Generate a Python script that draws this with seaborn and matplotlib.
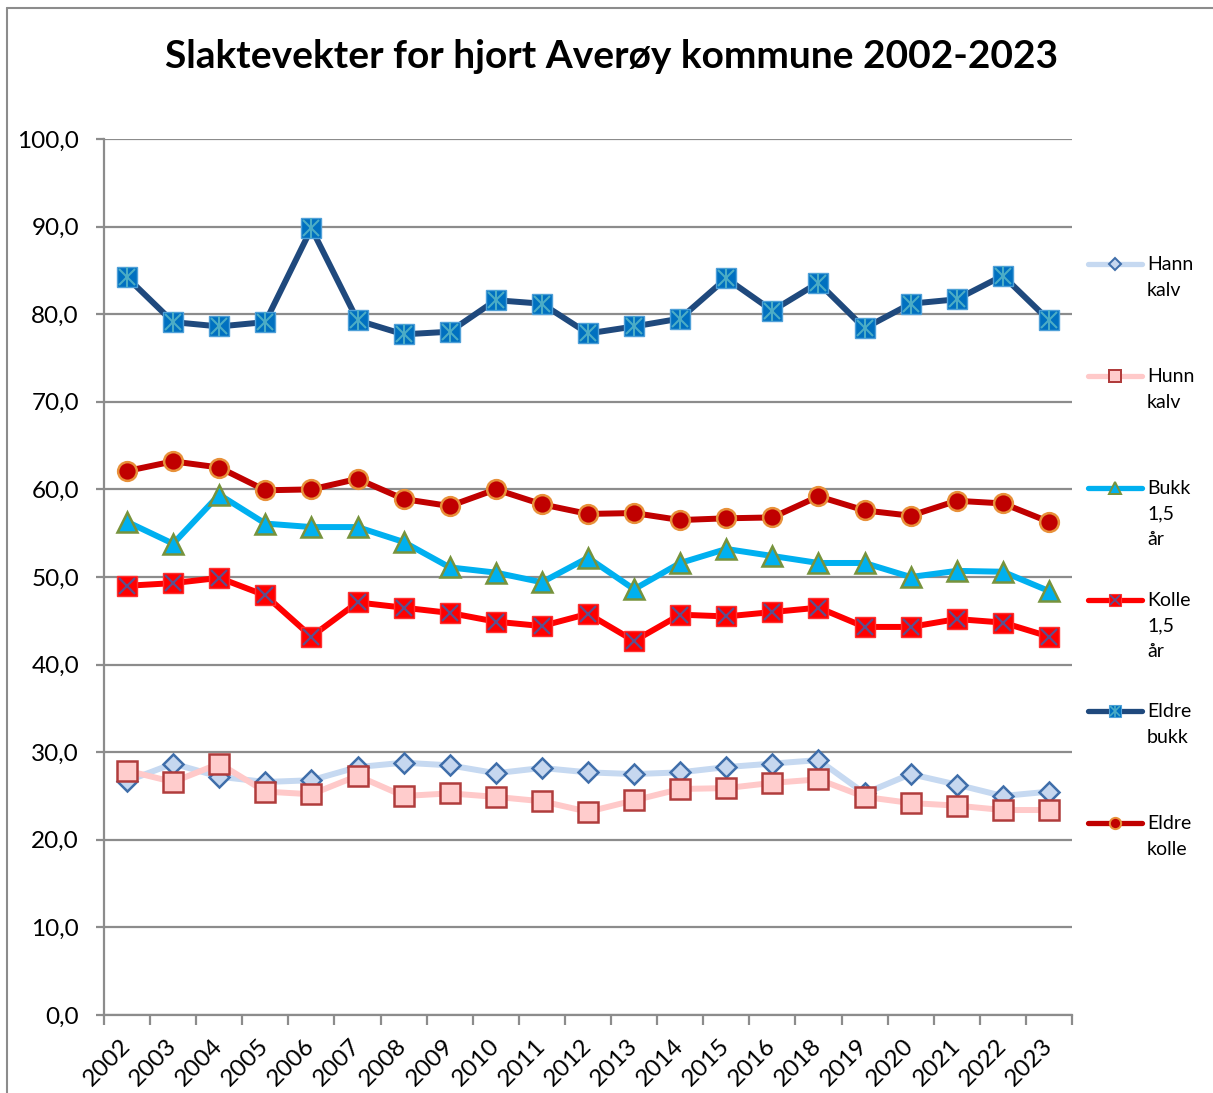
import numpy as np
import pandas as pd
import matplotlib
matplotlib.use("Agg")
import matplotlib.pyplot as plt
from matplotlib.lines import Line2D
import seaborn as sns

# ---------------- data ----------------
years = ["2002", "2003", "2004", "2005", "2006", "2007", "2008", "2009", "2010",
         "2011", "2012", "2013", "2014", "2015", "2016", "2018", "2019", "2020",
         "2021", "2022", "2023"]
hann_kalv = [26.7, 28.7, 27.2, 26.6, 26.8, 28.3, 28.8, 28.5, 27.6, 28.2, 27.7,
             27.5, 27.7, 28.3, 28.7, 29.1, 25.3, 27.5, 26.3, 25.0, 25.5]
hunn_kalv = [27.9, 26.6, 28.7, 25.5, 25.2, 27.3, 25.0, 25.3, 24.9, 24.4, 23.2,
             24.5, 25.8, 25.9, 26.5, 26.9, 24.9, 24.2, 23.9, 23.4, 23.4]
bukk_15 = [56.3, 53.8, 59.4, 56.1, 55.7, 55.7, 54.0, 51.1, 50.5, 49.4, 52.2,
           48.6, 51.6, 53.2, 52.4, 51.6, 51.6, 50.0, 50.7, 50.6, 48.4]
kolle_15 = [49.0, 49.3, 49.9, 47.9, 43.2, 47.1, 46.5, 45.9, 44.9, 44.4, 45.8,
            42.7, 45.7, 45.5, 46.0, 46.5, 44.3, 44.3, 45.2, 44.8, 43.2]
eldre_bukk = [84.2, 79.1, 78.6, 79.1, 89.8, 79.3, 77.7, 78.0, 81.6, 81.2, 77.8,
              78.6, 79.5, 84.1, 80.4, 83.6, 78.4, 81.2, 81.7, 84.4, 79.3]
eldre_kolle = [62.1, 63.2, 62.5, 59.9, 60.0, 61.2, 58.9, 58.1, 60.0, 58.3, 57.2,
               57.3, 56.5, 56.7, 56.8, 59.2, 57.6, 57.0, 58.7, 58.4, 56.3]
series_names = ["Hann\nkalv", "Hunn\nkalv", "Bukk\n1,5\når", "Kolle\n1,5\når",
                "Eldre\nbukk", "Eldre\nkolle"]
title = "Slaktevekter for hjort Averøy kommune 2002-2023"

# ---------------- styles ----------------
styles = [
    dict(color="#C6D9F1", marker="D", ms=10, mfc="#C6D7EF", mec="#3F6EAA", mew=1.8),
    dict(color="#FFC9C9", marker="s", ms=14, mfc="#FFCCCC", mec="#B03C3C", mew=1.8),
    dict(color="#00B0F0", marker="^", ms=15, mfc="#00B0F0", mec="#77933C", mew=1.8),
    dict(color="#FF0000", marker="s", ms=14, mfc="#FF0000", mec="#FF3030", mew=1.0),
    dict(color="#1F497D", marker="s", ms=14, mfc="#0070C0", mec="#4FA0D8", mew=1.0),
    dict(color="#C00000", marker="o", ms=13.5, mfc="#C00000", mec="#E8913A", mew=1.8),
]
overlays = {3: [dict(marker="x", ms=12, color="#5E4F8C", mew=1.6)],
            4: [dict(marker="x", ms=11, color="#4BACC6", mew=1.5),
                dict(marker="|", ms=14, color="#4BACC6", mew=1.5)]}

sns.set_theme(style="white")
plt.rcParams["font.family"] = ["Lato", "DejaVu Sans"]

W, H = 1213, 1093
fig = plt.figure(figsize=(W / 100, H / 100), dpi=100)
fig.patch.set_facecolor("white")

def fx(px):
    return px / W

def fy(py):
    return 1 - py / H

ax_l, ax_r, ax_t, ax_b = 104, 1072, 139, 1015
ax = fig.add_axes([fx(ax_l), fy(ax_b), fx(ax_r - ax_l), (ax_b - ax_t) / H])

xpos = np.arange(len(years))
all_series = [hann_kalv, hunn_kalv, bukk_15, kolle_15, eldre_bukk, eldre_kolle]
for i, (vals, st) in enumerate(zip(all_series, styles)):
    sns.lineplot(x=xpos, y=vals, ax=ax, color=st["color"], lw=4.3,
                 marker=st["marker"], markersize=st["ms"],
                 markerfacecolor=st["mfc"], markeredgecolor=st["mec"],
                 markeredgewidth=st["mew"], zorder=3 + i, legend=False)
    for ov in overlays.get(i, []):
        ax.plot(xpos, vals, ls="none", marker=ov["marker"], ms=ov["ms"],
                mec=ov["color"], mew=ov["mew"], zorder=3.5 + i)

grid_col = "#8C8C8C"
ax.set_xlim(-0.5, len(years) - 0.5)
ax.set_ylim(0, 100)
yt = np.arange(0, 101, 10)
ax.set_yticks(yt)
ax.set_yticklabels([f"{v:.1f}".replace(".", ",") for v in yt])
ax.set_xticks(xpos)
ax.set_xticklabels(years, rotation=45, ha="right", rotation_mode="anchor", va="center")
ax.set_xticks(np.arange(-0.5, len(years), 1), minor=True)
ax.set_xlabel("")
ax.set_ylabel("")
ax.yaxis.grid(True, color=grid_col, lw=1.6, zorder=0)
ax.xaxis.grid(False)
ax.set_axisbelow(True)
for s in ["top", "right"]:
    ax.spines[s].set_visible(False)
for s in ["left", "bottom"]:
    ax.spines[s].set_color(grid_col)
    ax.spines[s].set_linewidth(1.6)
ax.tick_params(axis="y", which="major", length=6, width=1.6, color=grid_col,
               direction="out", pad=12, labelsize=17.5, labelcolor="black", left=True)
ax.tick_params(axis="x", which="major", length=0, pad=20, labelsize=17.5,
               labelcolor="black", bottom=True)
ax.tick_params(axis="x", which="minor", length=7, width=1.6, color=grid_col,
               direction="out", bottom=True)

# title
fig.text(0.5041, fy(68), title, ha="center", va="baseline", fontsize=28,
         fontweight="bold", color="black")

# legend (drawn manually to mimic Excel layout)
leg_y = [264, 376, 488, 600, 711, 823]
for i, (name, st) in enumerate(zip(series_names, styles)):
    yc = fy(leg_y[i])
    fig.add_artist(Line2D([fx(1088), fx(1142)], [yc, yc], transform=fig.transFigure,
                          color=st["color"], lw=3.8))
    fig.add_artist(Line2D([fx(1115)], [yc], transform=fig.transFigure, ls="none",
                          marker=st["marker"], ms=st["ms"] * 0.6,
                          mfc=st["mfc"], mec=st["mec"], mew=st["mew"] * 0.8))
    for ov in overlays.get(i, []):
        fig.add_artist(Line2D([fx(1115)], [yc], transform=fig.transFigure, ls="none",
                              marker=ov["marker"], ms=ov["ms"] * 0.6,
                              mec=ov["color"], mew=ov["mew"] * 0.8))
    fig.text(fx(1147), fy(leg_y[i] - 8), name, ha="left", va="top",
             fontsize=14, color="black", linespacing=1.62)

# chart border
fig.add_artist(Line2D([fx(7), fx(7)], [0, fy(8)], transform=fig.transFigure,
                      color=grid_col, lw=1.5))
fig.add_artist(Line2D([fx(7), 1], [fy(8), fy(8)], transform=fig.transFigure,
                      color=grid_col, lw=1.5))

fig.savefig("out.png", dpi=100, facecolor="white")
